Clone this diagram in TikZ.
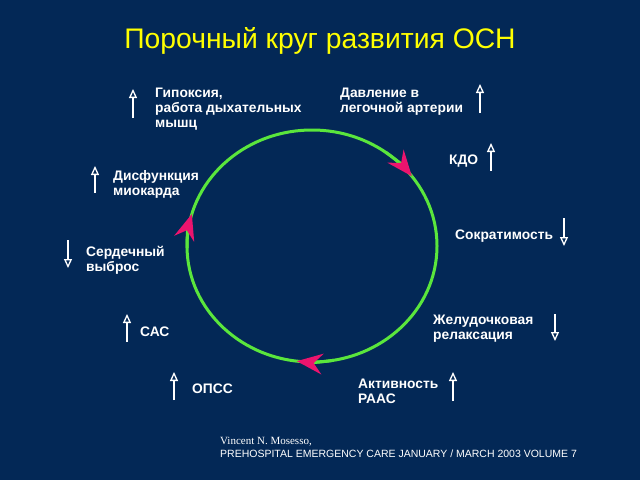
\documentclass[tikz,border=0pt]{standalone}
\usepackage{fontspec}
\setmainfont{Liberation Sans}
\newfontfamily\citeserif{Liberation Serif}
\usetikzlibrary{arrows.meta}
\definecolor{bg}{RGB}{3,40,86}
\definecolor{ttl}{RGB}{255,255,0}
\definecolor{ring}{RGB}{90,230,60}
\definecolor{pinkarr}{RGB}{235,20,110}
\tikzset{
  lbl/.style={anchor=base west, inner sep=0pt, text=white, align=left,
    font=\fontsize{13.8}{15}\selectfont\bfseries},
  ind/.style={draw=white, line width=2pt,
    -{Triangle[open, length=9pt, width=8pt, line width=1.3pt, fill=bg]}},
  ringline/.style={draw=ring, line width=3pt},
  cyc/.style={ringline, -{Stealth[length=26pt, width=21pt, inset=9pt, color=pinkarr, line width=0pt]}},
}
\begin{document}
\begin{tikzpicture}[x=1pt, y=-1pt]
\fill[bg] (0,0) rectangle (640,480);
\useasboundingbox (0,0) rectangle (640,480);
% title
\node[anchor=base, inner sep=0pt, text=ttl, font=\fontsize{28.3}{32}\selectfont] (title) at (320,48) {Порочный круг развития ОСН};
% ring
\coordinate (c) at (312,246);
\draw[ringline] (c) ellipse [x radius=125, y radius=116];
\draw[cyc] (c) ++(-54:125 and 116) arc[start angle=-54, end angle=-37, x radius=125, y radius=116];
\draw[cyc] (c) ++(179:125 and 116) arc[start angle=179, end angle=196, x radius=125, y radius=116];
\draw[cyc] (c) ++(80:125 and 116) arc[start angle=80, end angle=97, x radius=125, y radius=116];
% labels (anchor = baseline of last line)
\node[lbl] (hyp) at (155,127) {Гипоксия,\\работа дыхательных\\мышц};
\node[lbl] (dav) at (340,112) {Давление в\\легочной артерии};
\node[lbl] (kdo) at (449,164) {КДО};
\node[lbl] (dis) at (113,195) {Дисфункция\\миокарда};
\node[lbl] (ser) at (86,271) {Сердечный\\выброс};
\node[lbl] (sok) at (455,239) {Сократимость};
\node[lbl] (zhe) at (433,339) {Желудочковая\\релаксация};
\node[lbl] (sas) at (140,336) {САС};
\node[lbl] (opss) at (192,393) {ОПСС};
\node[lbl] (akt) at (358,403) {Активность\\РААС};
% indicator arrows
\coordinate (a1s) at (133,118); \coordinate (a1e) at (133,89);
\coordinate (a2s) at (480,113); \coordinate (a2e) at (480,84);
\coordinate (a3s) at (491,171); \coordinate (a3e) at (491,143);
\coordinate (a4s) at (95,193);  \coordinate (a4e) at (95,166);
\coordinate (a5s) at (68,240);  \coordinate (a5e) at (68,268);
\coordinate (a6s) at (564,218); \coordinate (a6e) at (564,246);
\coordinate (a7s) at (555,314); \coordinate (a7e) at (555,341);
\coordinate (a8s) at (127,342); \coordinate (a8e) at (127,314);
\coordinate (a9s) at (174,400); \coordinate (a9e) at (174,372);
\coordinate (a10s) at (453,401); \coordinate (a10e) at (453,372);
\foreach \i in {1,...,10} \draw[ind] (a\i s) -- (a\i e);
% citation
\node[anchor=base west, inner sep=0pt, text=white, font=\citeserif\fontsize{11}{13}\selectfont] (cite1) at (220,444) {Vincent N. Mosesso,};
\node[anchor=base west, inner sep=0pt, text=white, font=\fontsize{10.5}{13}\selectfont] (cite2) at (220,457) {PREHOSPITAL EMERGENCY CARE JANUARY / MARCH 2003 VOLUME 7};
\end{tikzpicture}
\end{document}
